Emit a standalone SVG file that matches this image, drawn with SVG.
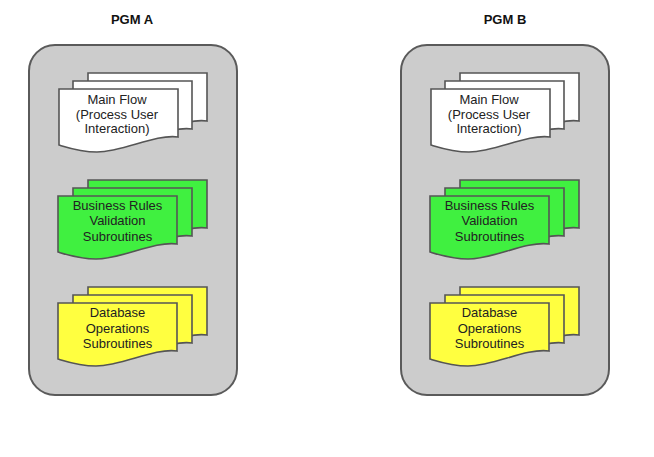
<svg xmlns="http://www.w3.org/2000/svg" xmlns:xlink="http://www.w3.org/1999/xlink" width="654" height="457" viewBox="0 0 654 457">
<style>
.title{font-family:"Liberation Sans",Arial,sans-serif;font-size:13px;font-weight:bold;fill:#111;text-anchor:middle}
.lbl{font-family:"Liberation Sans",Arial,sans-serif;font-size:13px;fill:#222;text-anchor:middle}
.box{fill:#cccccc;stroke:#5a5a5a;stroke-width:2}
.doc{stroke:#555;stroke-width:1.6;stroke-linejoin:miter}
.w{fill:#ffffff}
.g{fill:#40f040}
.y{fill:#ffff40}
</style>
<defs>
<path id="d" d="M0,0 H119 V48 C95,45 65,63 38,63 C22,63 10,59 0,56 Z"/>
</defs>
<rect width="654" height="457" fill="#ffffff"/>
<g id="pgmA">
<text class="title" x="132" y="24">PGM A</text>
<rect class="box" x="29" y="45" width="208" height="350" rx="26"/>
<g id="a-main">
<use href="#d" xlink:href="#d" class="doc w" x="88" y="73"/>
<use href="#d" xlink:href="#d" class="doc w" x="73" y="81"/>
<use href="#d" xlink:href="#d" class="doc w" x="59" y="89"/>
<text class="lbl" x="117" y="104">Main Flow</text>
<text class="lbl" x="117" y="118.5">(Process User</text>
<text class="lbl" x="117" y="133">Interaction)</text>
</g>
<g id="a-rules">
<use href="#d" xlink:href="#d" class="doc g" x="88" y="180"/>
<use href="#d" xlink:href="#d" class="doc g" x="73" y="188"/>
<use href="#d" xlink:href="#d" class="doc g" x="58" y="196"/>
<text class="lbl" x="117.5" y="209.5">Business Rules</text>
<text class="lbl" x="117.5" y="225">Validation</text>
<text class="lbl" x="117.5" y="240.5">Subroutines</text>
</g>
<g id="a-db">
<use href="#d" xlink:href="#d" class="doc y" x="88" y="287"/>
<use href="#d" xlink:href="#d" class="doc y" x="73" y="295"/>
<use href="#d" xlink:href="#d" class="doc y" x="58" y="303"/>
<text class="lbl" x="117.5" y="317">Database</text>
<text class="lbl" x="117.5" y="332.5">Operations</text>
<text class="lbl" x="117.5" y="348">Subroutines</text>
</g>
</g>
<g id="pgmB">
<text class="title" x="505" y="24">PGM B</text>
<rect class="box" x="401" y="45" width="208" height="350" rx="26"/>
<g id="b-main">
<use href="#d" xlink:href="#d" class="doc w" x="460" y="73"/>
<use href="#d" xlink:href="#d" class="doc w" x="445" y="81"/>
<use href="#d" xlink:href="#d" class="doc w" x="431" y="89"/>
<text class="lbl" x="489" y="104">Main Flow</text>
<text class="lbl" x="489" y="118.5">(Process User</text>
<text class="lbl" x="489" y="133">Interaction)</text>
</g>
<g id="b-rules">
<use href="#d" xlink:href="#d" class="doc g" x="460" y="180"/>
<use href="#d" xlink:href="#d" class="doc g" x="445" y="188"/>
<use href="#d" xlink:href="#d" class="doc g" x="430" y="196"/>
<text class="lbl" x="489.5" y="209.5">Business Rules</text>
<text class="lbl" x="489.5" y="225">Validation</text>
<text class="lbl" x="489.5" y="240.5">Subroutines</text>
</g>
<g id="b-db">
<use href="#d" xlink:href="#d" class="doc y" x="460" y="287"/>
<use href="#d" xlink:href="#d" class="doc y" x="445" y="295"/>
<use href="#d" xlink:href="#d" class="doc y" x="430" y="303"/>
<text class="lbl" x="489.5" y="317">Database</text>
<text class="lbl" x="489.5" y="332.5">Operations</text>
<text class="lbl" x="489.5" y="348">Subroutines</text>
</g>
</g>
<g id="connectors"/>
</svg>
